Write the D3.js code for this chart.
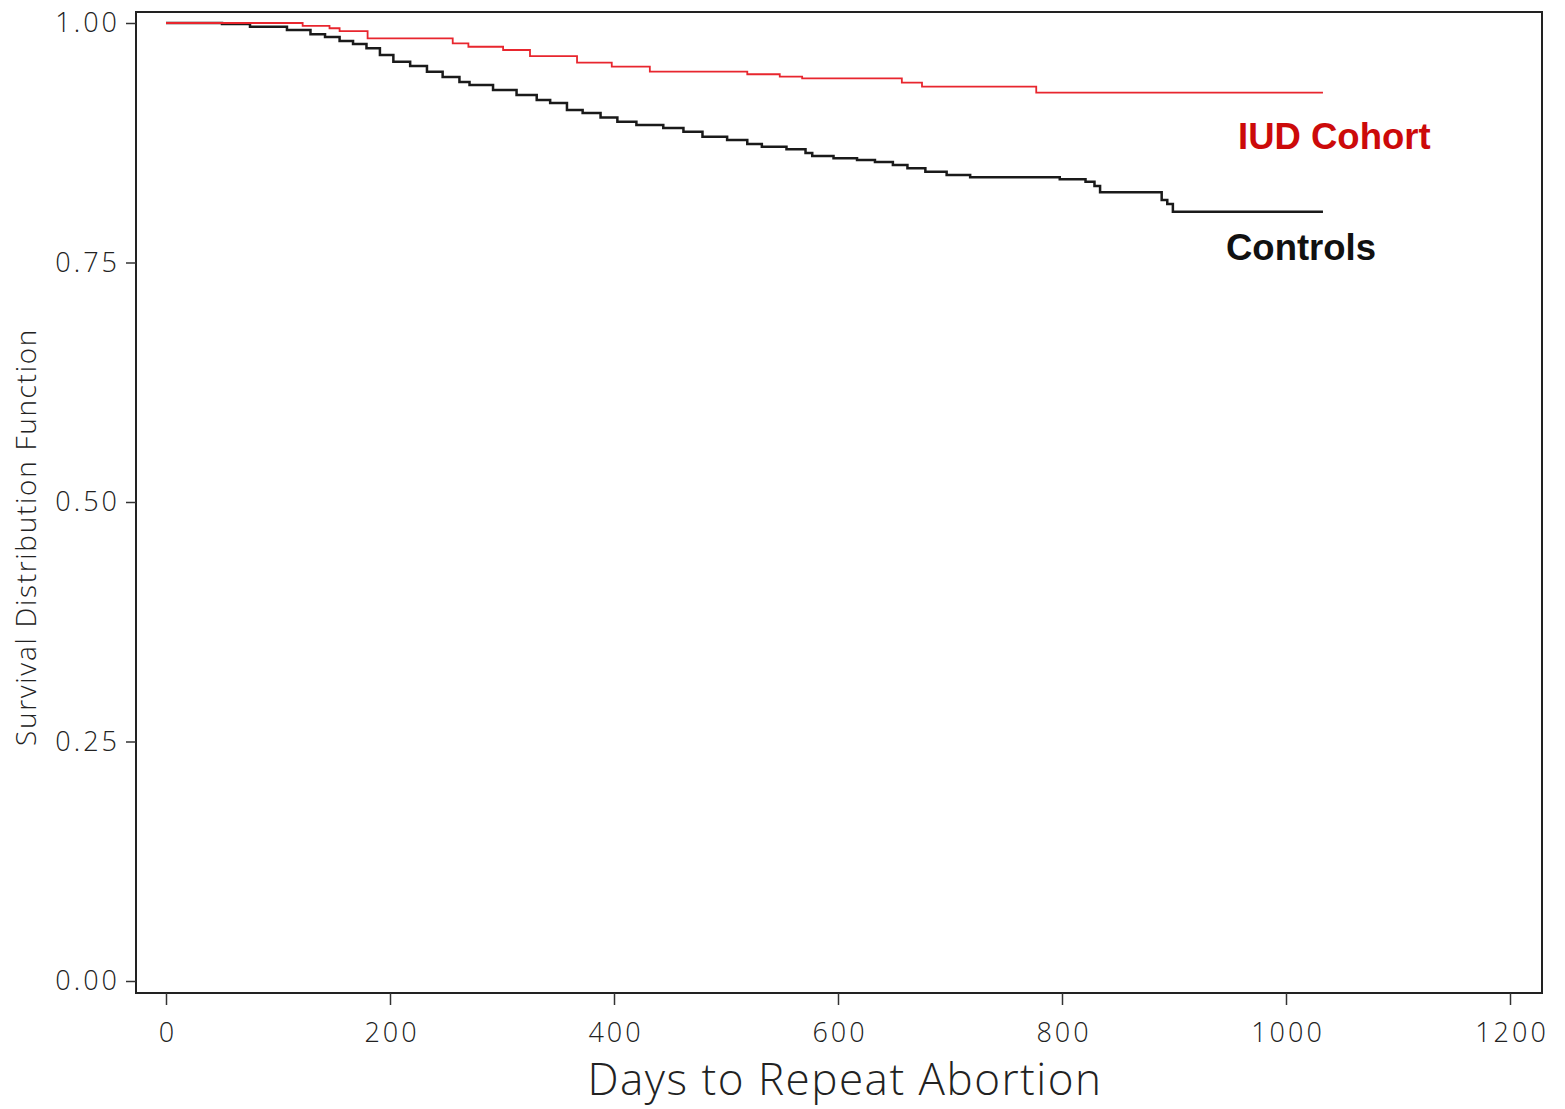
<!DOCTYPE html>
<html>
<head>
<meta charset="utf-8">
<script src="https://cdn.jsdelivr.net/npm/d3@7"></script>
<style>
  html, body { margin: 0; padding: 0; background: #fff; }
  svg { display: block; }
  .tick text { font-family: "Open Sans", "DejaVu Sans", sans-serif; font-weight: 300; letter-spacing: 3px; }
</style>
</head>
<body>
<svg id="chart" width="1565" height="1109"></svg>
<script>
// Kaplan–Meier step estimates: day of each event and survival after it
const iudDays   = [0, 122, 146, 155, 180, 256, 270, 301, 325, 367, 398, 432, 519, 548, 568, 657, 675, 777, 1033];
const iudSurv   = [1.000, 0.9969, 0.9945, 0.9916, 0.984, 0.9788, 0.9752, 0.9718, 0.9655, 0.9586, 0.9544, 0.9492, 0.9465, 0.9440, 0.9423, 0.9377, 0.9335, 0.9273, 0.9273];

const ctrlDays  = [0, 50, 75, 108, 129, 142, 155, 167, 179, 191, 203, 218, 233, 247, 262, 271, 292, 313, 331, 343, 358, 372, 388, 403, 420, 444, 462, 479, 501, 519, 532, 554, 571, 577, 596, 617, 633, 649, 662, 678, 697, 718, 798, 821, 829, 834, 889, 894, 899, 1033];
const ctrlSurv  = [1.000, 0.999, 0.9962, 0.9927, 0.9882, 0.9854, 0.9812, 0.978, 0.9736, 0.9666, 0.9596, 0.955, 0.9492, 0.9436, 0.9384, 0.9353, 0.930, 0.9248, 0.9197, 0.9165, 0.9092, 0.906, 0.9013, 0.897, 0.8935, 0.8904, 0.8865, 0.8813, 0.8779, 0.8737, 0.8709, 0.8682, 0.8643, 0.8612, 0.8588, 0.857, 0.855, 0.8518, 0.8483, 0.8448, 0.8413, 0.8389, 0.8368, 0.8343, 0.8299, 0.8233, 0.8152, 0.811, 0.803, 0.803];

const xTicks = [0, 200, 400, 600, 800, 1000, 1200];
const yTicks = [0.00, 0.25, 0.50, 0.75, 1.00];

const groupNames = ["IUD Cohort", "Controls"];

const svg = d3.select("#chart");

const x = d3.scaleLinear().domain([0, 1200]).range([166, 1510]);
const y = d3.scaleLinear().domain([0, 1]).range([981, 23]);

// plot frame
const frame = { left: 136, right: 1542, top: 12, bottom: 993 };
svg.append("rect")
  .attr("x", frame.left).attr("y", frame.top)
  .attr("width", frame.right - frame.left).attr("height", frame.bottom - frame.top)
  .attr("fill", "none").attr("stroke", "#222").attr("stroke-width", 2);

// axes
const xAxis = d3.axisBottom(x).tickValues(xTicks).tickSize(12).tickPadding(18).tickFormat(d3.format("d"));
const gx = svg.append("g").attr("transform", `translate(0,${frame.bottom})`).call(xAxis);
gx.select(".domain").remove();
gx.selectAll(".tick line").attr("stroke", "#333").attr("stroke-width", 1.5);
gx.selectAll(".tick text").attr("font-size", 27).attr("fill", "#222").attr("dx", "1.5px");

const yAxis = d3.axisLeft(y).tickValues(yTicks).tickSize(10).tickPadding(6).tickFormat(d3.format(".2f"));
const gy = svg.append("g").attr("transform", `translate(${frame.left},0)`).call(yAxis);
gy.select(".domain").remove();
gy.selectAll(".tick line").attr("stroke", "#333").attr("stroke-width", 1.5);
gy.selectAll(".tick text").attr("font-size", 27).attr("fill", "#222");

// axis titles
svg.append("text")
  .attr("x", 845).attr("y", 1095)
  .attr("text-anchor", "middle")
  .attr("font-family", "'Open Sans', 'DejaVu Sans', sans-serif")
  .attr("font-weight", 300)
  .attr("font-size", 44).attr("letter-spacing", "1.5px").attr("fill", "#222")
  .text("Days to Repeat Abortion");

svg.append("text")
  .attr("transform", "translate(36,537) rotate(-90)")
  .attr("text-anchor", "middle")
  .attr("font-family", "'Open Sans', 'DejaVu Sans', sans-serif")
  .attr("font-weight", 300)
  .attr("font-size", 28).attr("letter-spacing", "1.7px").attr("fill", "#222")
  .text("Survival Distribution Function");

// survival step curves
const line = d3.line()
  .x(d => x(d[0]))
  .y(d => y(d[1]))
  .curve(d3.curveStepAfter);

svg.append("path")
  .datum(d3.zip(ctrlDays, ctrlSurv))
  .attr("d", line)
  .attr("fill", "none").attr("stroke", "#1a1a1a").attr("stroke-width", 2.5);

svg.append("path")
  .datum(d3.zip(iudDays, iudSurv))
  .attr("d", line)
  .attr("fill", "none").attr("stroke", "#e8262e").attr("stroke-width", 1.8);

// group labels
svg.append("text")
  .attr("x", 1238).attr("y", 149)
  .attr("font-family", "'Liberation Sans', Arial, sans-serif")
  .attr("font-weight", "bold").attr("font-size", 36.5)
  .attr("fill", "#cc0a0a")
  .text(groupNames[0]);

svg.append("text")
  .attr("x", 1226).attr("y", 260)
  .attr("font-family", "'Liberation Sans', Arial, sans-serif")
  .attr("font-weight", "bold").attr("font-size", 36.5)
  .attr("fill", "#111")
  .text(groupNames[1]);
</script>
</body>
</html>
